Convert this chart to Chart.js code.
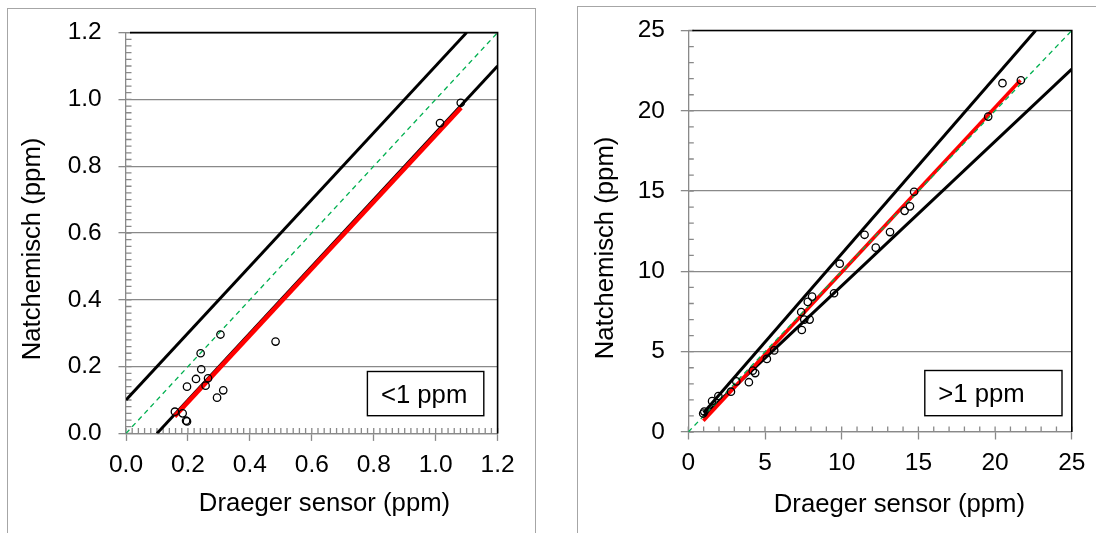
<!DOCTYPE html>
<html>
<head>
<meta charset="utf-8">
<script src="https://cdn.jsdelivr.net/npm/chart.js@4.4.1/dist/chart.umd.min.js"></script>
<style>
  body { margin: 0; background: #fff; width: 1096px; height: 533px; overflow: hidden; position: relative; }
  .frame { position: absolute; border: 1px solid #a6a6a6; }
  #frameLow { left: 7px; top: 8px; width: 527px; height: 600px; }
  #frameHigh { left: 577px; top: 6px; width: 600px; height: 600px; }
  canvas { position: absolute; top: 0; }
  #chartLow { left: 0; }
  #chartHigh { left: 556px; }
</style>
</head>
<body>
<div class="frame" id="frameLow"></div>
<div class="frame" id="frameHigh"></div>
<canvas id="chartLow" width="556" height="533"></canvas>
<canvas id="chartHigh" width="540" height="533"></canvas>
<script>
// axis texts
const xTitle = 'Draeger sensor (ppm)';
const yTitle = 'Natchemisch (ppm)';
const lowLabel = '<1 ppm';
const highLabel = '>1 ppm';

// <1 ppm panel: measured points
const lowSensor = [0.158, 0.183, 0.194, 0.197, 0.197, 0.226, 0.241, 0.243, 0.257, 0.265, 0.294, 0.305, 0.314, 0.483, 1.014, 1.081];
const lowNat    = [0.065, 0.060, 0.038, 0.036, 0.140, 0.163, 0.240, 0.192, 0.143, 0.165, 0.107, 0.296, 0.129, 0.275, 0.929, 0.990];
// <1 ppm panel: lines (x, y pairs of end points)
const lowOneX = [0, 1.2];          const lowOneY = [0, 1.2];
const lowUpperX = [0, 1.1];        const lowUpperY = [0.1, 1.2];
const lowLowerX = [0.1, 1.2];      const lowLowerY = [0, 1.1];
const lowFitX = [0.157, 1.082];    const lowFitY = [0.051, 0.975];

// >1 ppm panel: measured points
const highSensor = [0.97, 1.04, 1.55, 1.96, 2.78, 3.13, 3.95, 4.20, 4.36, 5.12, 5.60, 7.36, 7.40, 7.56, 7.79, 7.91, 8.07, 9.50, 9.87, 11.49, 12.22, 13.15, 14.10, 14.45, 14.72, 19.55, 20.48, 21.68];
const highNat    = [1.15, 1.27, 1.92, 2.24, 2.51, 3.15, 3.10, 3.82, 3.67, 4.55, 5.08, 7.47, 6.35, 7.00, 8.10, 7.00, 8.43, 8.64, 10.48, 12.28, 11.48, 12.45, 13.77, 14.05, 14.96, 19.64, 21.72, 21.90];
// >1 ppm panel: lines
const highOneX = [0, 25];          const highOneY = [0, 25];
const highUpperX = [1, 22.64];     const highUpperY = [1.2, 25];
const highLowerX = [1, 25];        const highLowerY = [1.0, 22.6];
const highFitX = [0.98, 21.65];    const highFitY = [0.70, 21.9];

const FONT = '"Liberation Sans", Arial, sans-serif';
const GRAY = '#898989';

function pairs(xs, ys) {
  return xs.map((x, i) => ({ x: x, y: ys[i] }));
}

// Excel style extras: inner minor ticks, black top/right border, titles and label box
const excelLook = {
  id: 'excelLook',
  beforeDatasetsDraw(chart, args, opts) {
    const { ctx, chartArea: a, scales: { x, y } } = chart;
    ctx.save();
    ctx.strokeStyle = GRAY;
    ctx.lineWidth = 1.3;
    ctx.beginPath();
    const ny = Math.round((y.max - y.min) / opts.minorY);
    for (let i = 0; i <= ny; i++) {
      const py = y.getPixelForValue(y.min + i * opts.minorY);
      ctx.moveTo(a.left, py);
      ctx.lineTo(a.left + 5.5, py);
    }
    const nx = Math.round((x.max - x.min) / opts.minorX);
    for (let i = 0; i <= nx; i++) {
      const px = x.getPixelForValue(x.min + i * opts.minorX);
      ctx.moveTo(px, a.bottom);
      ctx.lineTo(px, a.bottom - 5.5);
    }
    ctx.stroke();
    ctx.restore();
  },
  afterDatasetsDraw(chart) {
    const { ctx, chartArea: a } = chart;
    ctx.save();
    ctx.strokeStyle = '#000';
    ctx.lineWidth = 1.6;
    ctx.beginPath();
    ctx.moveTo(a.left + 4, a.top);
    ctx.lineTo(a.right, a.top);
    ctx.lineTo(a.right, a.bottom);
    ctx.stroke();
    ctx.restore();
  },
  afterDraw(chart, args, opts) {
    const { ctx } = chart;
    ctx.save();
    ctx.fillStyle = '#000';
    ctx.font = '25.7px ' + FONT;
    ctx.textBaseline = 'alphabetic';
    ctx.textAlign = 'center';
    ctx.fillText(xTitle, opts.xTitleX, opts.xTitleY);
    ctx.save();
    ctx.translate(opts.yTitleX, opts.yTitleY);
    ctx.rotate(-Math.PI / 2);
    ctx.fillText(yTitle, 0, 0);
    ctx.restore();
    const b = opts.box;
    ctx.strokeStyle = '#000';
    ctx.lineWidth = 1.4;
    ctx.strokeRect(b[0], b[1], b[2], b[3]);
    ctx.textAlign = 'left';
    ctx.fillText(opts.boxText, b[0] + 13.5, b[1] + 31.5);
    ctx.restore();
  }
};

function makeChart(canvasId, cfg) {
  const ctx = document.getElementById(canvasId).getContext('2d');
  return new Chart(ctx, {
    type: 'scatter',
    data: {
      datasets: [
        {
          data: pairs(cfg.sensor, cfg.nat),
          pointStyle: 'circle',
          pointRadius: 3.7,
          pointBorderWidth: 1.3,
          pointBorderColor: '#000',
          pointBackgroundColor: 'rgba(0,0,0,0)',
        },
        {
          data: pairs(cfg.oneX, cfg.oneY),
          showLine: true,
          borderColor: '#00b050',
          borderWidth: 1.3,
          borderDash: [5, 4],
          pointRadius: 0,
        },
        {
          data: pairs(cfg.fitX, cfg.fitY),
          showLine: true,
          borderColor: '#ff0000',
          borderWidth: cfg.fitWidth,
          pointRadius: 0,
        },
        {
          data: pairs(cfg.upperX, cfg.upperY),
          showLine: true,
          borderColor: '#000',
          borderWidth: 3,
          pointRadius: 0,
        },
        {
          data: pairs(cfg.lowerX, cfg.lowerY),
          showLine: true,
          borderColor: '#000',
          borderWidth: 3,
          pointRadius: 0,
        },
      ],
    },
    options: {
      responsive: false,
      animation: false,
      events: [],
      layout: { padding: { left: 0, top: cfg.padTop, right: cfg.padRight, bottom: 0 } },
      plugins: {
        legend: { display: false },
        tooltip: { enabled: false },
        excelLook: cfg.look,
      },
      scales: {
        x: {
          type: 'linear',
          min: cfg.min,
          max: cfg.max,
          afterFit: (scale) => { scale.height = cfg.xAxisHeight; },
          grid: { drawOnChartArea: false, drawTicks: true, tickLength: 7.5, tickColor: GRAY, tickWidth: 1.3 },
          border: { color: GRAY, width: 1.3 },
          ticks: {
            stepSize: cfg.major,
            autoSkip: false,
            maxRotation: 0,
            padding: 9.5,
            color: '#000',
            font: { family: FONT, size: 24.5 },
            callback: cfg.fmt,
          },
        },
        y: {
          type: 'linear',
          min: cfg.min,
          max: cfg.max,
          afterFit: (scale) => { scale.width = cfg.yAxisWidth; },
          grid: { color: GRAY, lineWidth: 1.3, drawTicks: true, tickLength: 7.5, tickColor: GRAY, tickWidth: 1.3 },
          border: { color: GRAY, width: 1.3 },
          ticks: {
            stepSize: cfg.major,
            autoSkip: false,
            padding: cfg.yPad,
            color: '#000',
            font: { family: FONT, size: 24.5 },
            callback: cfg.fmt,
          },
        },
      },
    },
    plugins: [excelLook],
  });
}

const chartLow = makeChart('chartLow', {
  sensor: lowSensor, nat: lowNat,
  oneX: lowOneX, oneY: lowOneY,
  upperX: lowUpperX, upperY: lowUpperY,
  lowerX: lowLowerX, lowerY: lowLowerY,
  fitX: lowFitX, fitY: lowFitY,
  fitWidth: 4.5,
  min: 0, max: 1.2, major: 0.2,
  fmt: (v) => Number(v).toFixed(1),
  padTop: 32.6, padRight: 556 - 497.6,
  xAxisHeight: 533 - 433.4, yAxisWidth: 126, yPad: 16.8,
  look: {
    minorX: 0.02, minorY: 0.02,
    xTitleX: 324.5, xTitleY: 511,
    yTitleX: 39.6, yTitleY: 249,
    box: [367.4, 371.5, 116.4, 44.2], boxText: lowLabel,
  },
});

const chartHigh = makeChart('chartHigh', {
  sensor: highSensor, nat: highNat,
  oneX: highOneX, oneY: highOneY,
  upperX: highUpperX, upperY: highUpperY,
  lowerX: highLowerX, lowerY: highLowerY,
  fitX: highFitX, fitY: highFitY,
  fitWidth: 3.5,
  min: 0, max: 25, major: 5,
  fmt: (v) => String(Math.round(v)),
  padTop: 30.5, padRight: 540 - 515.8,
  xAxisHeight: 533 - 432, yAxisWidth: 132.3, yPad: 15.8,
  look: {
    minorX: 1, minorY: 1,
    xTitleX: 899.4 - 556, xTitleY: 512,
    yTitleX: 612.6 - 556, yTitleY: 248,
    box: [924.8 - 556, 370.5, 137.2, 45.2], boxText: highLabel,
  },
});
</script>
</body>
</html>
